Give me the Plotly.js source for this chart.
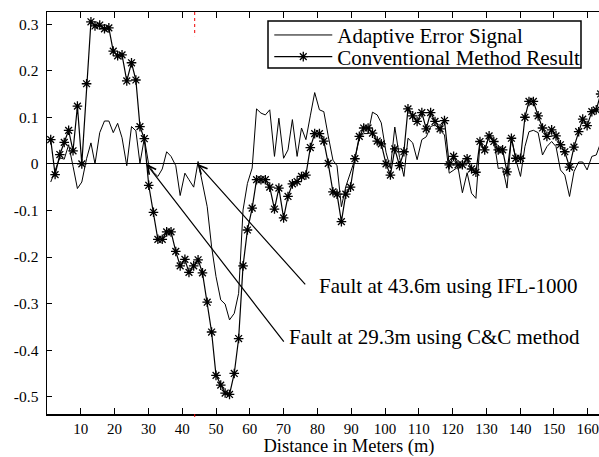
<!DOCTYPE html>
<html><head><meta charset="utf-8">
<script src="https://cdn.plot.ly/plotly-3.0.1.min.js"></script>
<style>html,body{margin:0;padding:0;overflow:hidden;background:#fff}#chart{width:651px;height:457px}</style>
</head><body><div id="chart"></div><script>
// Distance (m) sample positions
const distance = [1.1,2.4,3.8,5.1,6.4,7.7,9.0,10.3,11.7,13.0,14.2,15.6,17.0,18.3,19.6,20.9,22.2,23.6,25.0,26.3,
27.5,28.8,30.1,31.5,32.8,34.1,35.4,36.7,38.1,39.4,40.8,42.0,43.4,44.7,46.0,47.4,48.7,50.0,51.4,52.7,
54.0,55.4,56.7,58.0,59.3,60.7,62.0,63.3,64.6,65.9,67.3,68.6,70.0,71.3,72.6,74.0,75.3,76.6,77.9,79.2,
80.6,81.9,83.2,84.6,85.8,87.1,88.4,89.8,91.1,92.4,93.7,95.0,96.3,97.7,98.9,100.3,101.6,102.9,104.3,105.6,
106.8,108.2,109.5,110.9,112.2,113.5,114.8,116.3,117.6,119.0,120.3,121.6,122.9,124.3,125.6,126.9,128.1,129.5,130.8,132.2,
133.5,134.8,136.1,137.4,138.7,140.1,141.4,142.6,143.9,145.3,146.6,147.9,149.3,150.6,151.9,153.2,154.6,155.9,157.3,158.5,
159.8,161.2,162.5,163.8];
// Adaptive Error Signal
const adaptive = [-0.039,-0.015,0.013,0.010,0.041,-0.005,-0.053,-0.039,0.011,0.045,0.0,0.067,0.092,0.092,0.067,0.087,0.056,-0.004,0.080,0.071,
0.001,0.055,-0.002,-0.018,-0.027,-0.011,0.026,0.016,-0.004,-0.068,-0.020,-0.034,-0.050,0.005,-0.042,-0.092,-0.178,-0.242,-0.292,-0.301,
-0.335,-0.321,-0.278,-0.099,-0.042,-0.009,0.118,0.109,0.105,0.116,0.016,0.098,0.012,0.030,0.095,0.016,0.077,0.052,0.103,0.153,
0.116,0.112,0.060,0.008,-0.004,-0.092,-0.049,-0.020,0.010,0.055,0.065,0.065,0.111,0.105,0.088,0.025,-0.010,0.079,0.014,-0.027,
0.055,0.045,0.009,0.052,0.058,0.080,0.084,0.072,0.062,-0.020,-0.013,-0.007,-0.062,-0.019,-0.063,-0.074,0.044,0.027,0.063,0.052,
-0.010,-0.008,-0.052,0.057,0.009,-0.027,0.037,0.069,0.072,0.067,0.019,0.037,0.048,0.037,-0.013,-0.024,-0.070,-0.017,0.004,0.004,
-0.013,0.016,0.019,0.045];
// Conventional Method Result
const conventional = [0.052,-0.023,0.020,0.046,0.072,0.028,0.124,0.0,0.172,0.305,0.296,0.298,0.290,0.292,0.242,0.232,0.234,0.178,0.217,0.180,
0.080,0.054,-0.046,-0.104,-0.162,-0.162,-0.146,-0.146,-0.188,-0.219,-0.205,-0.233,-0.219,-0.206,-0.234,-0.297,-0.361,-0.454,-0.475,-0.492,
-0.495,-0.450,-0.375,-0.219,-0.142,-0.095,-0.034,-0.034,-0.034,-0.050,-0.097,-0.052,-0.116,-0.070,-0.043,-0.038,-0.027,-0.024,0.035,0.065,
0.065,0.049,0.001,-0.060,-0.065,-0.124,-0.065,-0.050,0.011,0.059,0.077,0.077,0.066,0.049,0.043,0.0,-0.024,0.032,-0.004,0.026,
0.118,0.103,0.091,0.110,0.075,0.110,0.091,0.075,0.093,-0.002,0.016,-0.002,-0.002,0.011,-0.011,-0.018,0.048,0.030,0.060,0.048,
0.030,0.030,-0.017,0.055,0.012,0.012,0.100,0.134,0.134,0.103,0.077,0.059,0.073,0.060,0.041,0.026,-0.007,0.036,0.069,0.096,
0.082,0.112,0.116,0.150];
const seriesNames = ['Adaptive Error Signal','Conventional Method Result'];
const xTickVals = [10,20,30,40,50,60,70,80,90,100,110,120,130,140,150,160,170];
const xTickText = ['10','20','30','40','50','60','70','80','90','100','110','120','130','140','150','160','170'];
const yTickVals = [0.3,0.2,0.1,0,-0.1,-0.2,-0.3,-0.4,-0.5];
const yTickText = ['0.3','0.2','0.1','0','-0.1','-0.2','-0.3','-0.4','-0.5'];
const faultNotes = ['Fault at 43.6m using IFL-1000','Fault at 29.3m using C&C method'];
const faultTips = [[44.5,0],[29.4,0]];
const faultTails = [[76.8,-0.262],[70.4,-0.385]];
const faultTextPos = [[79.8,-0.262],[71.0,-0.372]];
const faultMark = 43.7;

const FONT = "'Liberation Serif', 'Times New Roman', serif";
const traces = [
  {x: distance, y: adaptive, name: seriesNames[0], type: 'scatter', mode: 'lines', legend: 'legend',
   line: {color: '#000', width: 1}},
  {x: distance, y: conventional, name: seriesNames[1], type: 'scatter', mode: 'lines+markers', legend: 'legend2',
   line: {color: '#000', width: 1.2},
   marker: {symbol: 'asterisk-open', size: 8, color: '#000', line: {color: '#000', width: 1.3}}}
];
const annotations = [];
for (let i = 0; i < 2; i++) {
  annotations.push({x: faultTips[i][0], y: faultTips[i][1], ax: faultTails[i][0], ay: faultTails[i][1],
    xref: 'x', yref: 'y', axref: 'x', ayref: 'y', text: '', showarrow: true,
    arrowhead: 5, arrowsize: 1.4, arrowwidth: 1.2, arrowcolor: '#000'});
  annotations.push({x: faultTextPos[i][0], y: faultTextPos[i][1], xref: 'x', yref: 'y', text: faultNotes[i],
    showarrow: false, xanchor: 'left', yanchor: 'middle', font: {family: FONT, size: 21, color: '#000'}});
}
const legendCommon = {xanchor: 'left', yanchor: 'middle', bgcolor: 'rgba(0,0,0,0)', borderwidth: 0,
  font: {family: FONT, size: 21, color: '#000'}, itemwidth: 58};
const layout = {
  width: 651, height: 457,
  margin: {l: 47, r: 0, t: 12, b: 43},
  paper_bgcolor: '#fff', plot_bgcolor: '#fff',
  font: {family: FONT, color: '#000', size: 15},
  showlegend: true,
  legend: Object.assign({x: 0.368, y: 0.942}, legendCommon),
  legend2: Object.assign({x: 0.368, y: 0.888}, legendCommon),
  xaxis: {range: [0, 178.7], tickmode: 'array', tickvals: xTickVals, ticktext: xTickText,
    ticks: 'inside', ticklen: 6, tickwidth: 1, tickcolor: '#000', showline: true, linecolor: '#000', linewidth: 1.5,
    mirror: 'ticks', showgrid: false, zeroline: false, ticklabelstandoff: 0,
    tickfont: {family: FONT, size: 15, color: '#000'},
    title: {text: 'Distance in Meters (m)', font: {family: FONT, size: 18.5, color: '#000'}, standoff: 14}},
  yaxis: {range: [-0.537, 0.326], tickmode: 'array', tickvals: yTickVals, ticktext: yTickText,
    ticks: 'inside', ticklen: 5, tickwidth: 1, tickcolor: '#000', showline: true, linecolor: '#000', linewidth: 1.5,
    mirror: 'ticks', showgrid: false, zeroline: true, zerolinecolor: '#000', zerolinewidth: 1.2,
    ticklabelstandoff: 4, tickfont: {family: FONT, size: 15.5, color: '#000'}},
  shapes: [
    {type: 'rect', xref: 'paper', yref: 'paper', x0: 0.3659, x1: 0.8841, y0: 0.8607, y1: 0.9776,
     fillcolor: '#fff', line: {color: '#000', width: 1.5}, layer: 'above'},
    {type: 'line', xref: 'x', yref: 'paper', x0: faultMark, x1: faultMark, y0: 1, y1: 0.94,
     line: {color: '#e00', width: 1, dash: 'dot'}},
    {type: 'line', xref: 'x', yref: 'paper', x0: faultMark, x1: faultMark, y0: 0, y1: -0.013,
     line: {color: '#e00', width: 1, dash: 'dot'}}
  ],
  annotations: annotations
};
Plotly.newPlot('chart', traces, layout, {displayModeBar: false, staticPlot: true});
</script></body></html>
